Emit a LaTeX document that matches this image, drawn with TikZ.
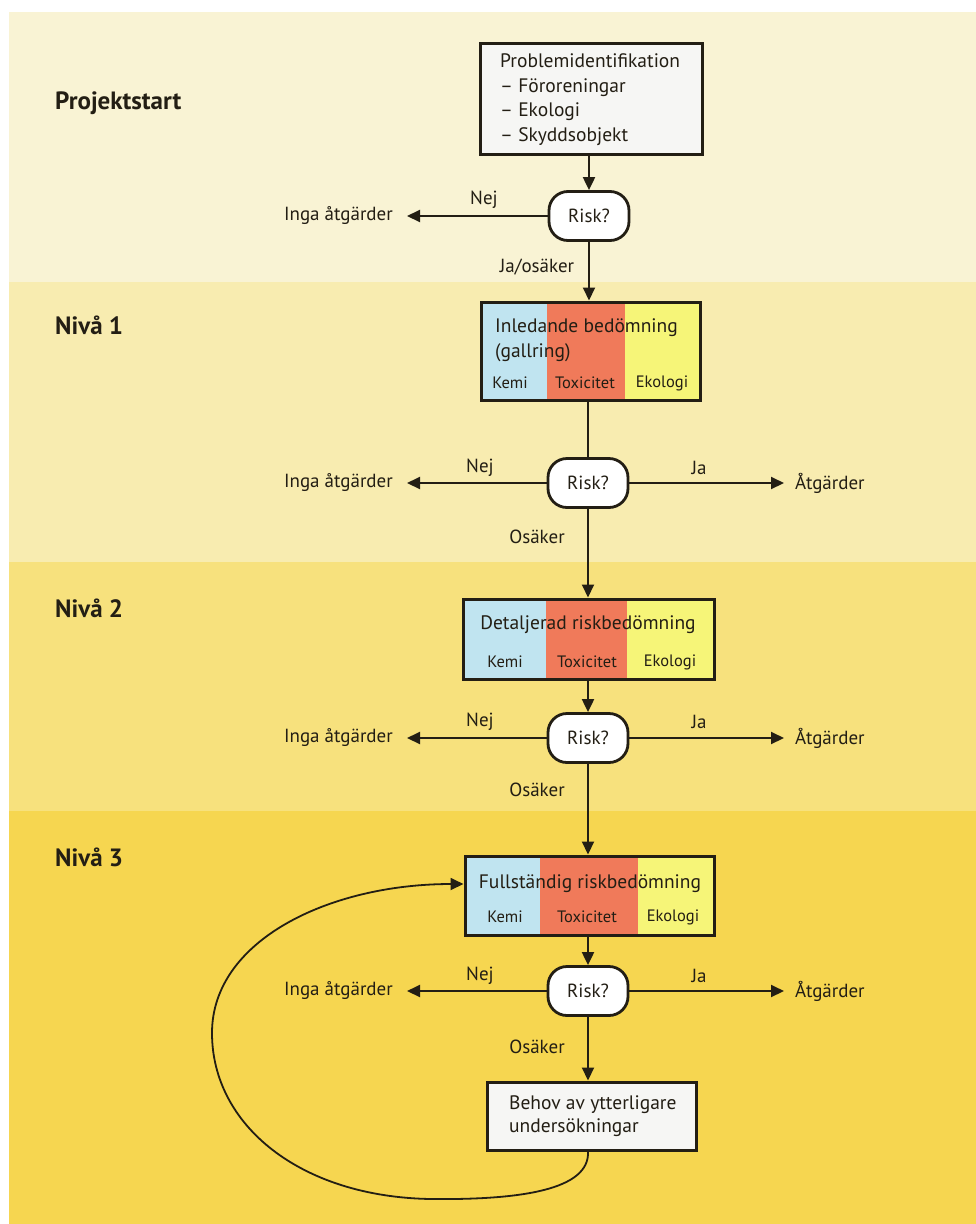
\documentclass[tikz,border=0pt]{standalone}
\usepackage{fontspec}
\setmainfont{PT Sans}
\usetikzlibrary{arrows.meta}
\definecolor{bandA}{RGB}{249,243,212}
\definecolor{bandB}{RGB}{248,236,176}
\definecolor{bandC}{RGB}{247,225,125}
\definecolor{bandD}{RGB}{246,214,80}
\definecolor{cblue}{RGB}{192,228,240}
\definecolor{cred}{RGB}{240,122,90}
\definecolor{cyel}{RGB}{246,245,120}
\definecolor{ink}{RGB}{35,30,20}
\definecolor{boxfill}{RGB}{246,246,244}
\begin{document}
\begin{tikzpicture}[x=1pt,y=-1pt,
  lbl/.style={font=\fontsize{19}{21}\selectfont, text=ink, inner sep=0pt},
  lvl/.style={font=\fontsize{25}{27}\selectfont\bfseries, text=ink, anchor=west, inner sep=0pt},
  riskbox/.style={draw=ink, line width=2.8pt, fill=white, rounded corners=19pt, minimum width=80pt, minimum height=49pt, font=\fontsize{19}{21}\selectfont, text=ink},
  framebox/.style={draw=ink, line width=3pt, inner sep=0pt},
  ttl/.style={font=\fontsize{19.5}{24.5}\selectfont, text=ink, inner sep=0pt},
  sub/.style={font=\fontsize{16.5}{18}\selectfont, text=ink, inner sep=0pt},
  tip/.style={-{Triangle[length=13pt,width=12pt]}},
  arr/.style={draw=ink, line width=2pt, tip},
  ln/.style={draw=ink, line width=2pt}]
\useasboundingbox (0,0) rectangle (976,1224);
\fill[white] (0,0) rectangle (976,1224);
\fill[bandA] (9,12) rectangle (976,282);
\fill[bandB] (9,282) rectangle (976,562);
\fill[bandC] (9,562) rectangle (976,811);
\fill[bandD] (9,811) rectangle (976,1224);

% level labels
\node[lvl] (lp) at (55,103) {Projektstart};
\node[lvl] (l1) at (55,325) {Nivå 1};
\node[lvl] (l2) at (55,608) {Nivå 2};
\node[lvl] (l3) at (55,857) {Nivå 3};

% Problem identification
\node[framebox, fill=boxfill, minimum width=222pt, minimum height=111pt] (prob) at (591,98.5) {};
\node[ttl, anchor=west, align=left] (probt) at (500,99.5) {Problemidentifikation\\– Föroreningar\\– Ekologi\\– Skyddsobjekt};

% Risk 0
\node[riskbox] (r0) at (589,216) {Risk?};
\node[lbl, anchor=east] (n0) at (393,216) {Inga åtgärder};
\draw[arr] (prob.south -| r0) -- (r0.north);
\draw[arr] (r0) -- ([xshift=14pt]n0.east);
\node[lbl] (nej0) at (484,200) {Nej};
\node[lbl] (ja0) at (537,267) {Ja/osäker};

% Level 1 box
\fill[cblue] (481,302) rectangle (547,400);
\fill[cred] (547,302) rectangle (625,400);
\fill[cyel] (625,302) rectangle (700,400);
\node[framebox, minimum width=219pt, minimum height=98pt] (b1) at (590.5,351) {};
\node[ttl, anchor=west, align=left] (b1t) at (495,340) {Inledande bedömning\\(gallring)};
\node[sub] (b1k) at (510,383) {Kemi};
\node[sub] (b1x) at (585,383) {Toxicitet};
\node[sub] (b1e) at (662,383) {Ekologi};
\draw[arr] (r0) -- (r0 |- b1.north);

% Risk 1
\node[riskbox] (r1) at (588,483) {Risk?};
\node[lbl, anchor=east] (n1) at (393,483) {Inga åtgärder};
\node[lbl, anchor=west] (a1) at (795,483) {Åtgärder};
\draw[ln] (b1.south -| r1) -- (r1.north);
\draw[arr] (r1) -- ([xshift=14pt]n1.east);
\draw[arr] (r1) -- ([xshift=-11pt]a1.west);
\node[lbl] (nej1) at (480,468) {Nej};
\node[lbl] (ja1) at (699,468) {Ja};
\node[lbl] (os1) at (537,537) {Osäker};

% Level 2 box
\fill[cblue] (463,599) rectangle (546,679);
\fill[cred] (546,599) rectangle (627,679);
\fill[cyel] (627,599) rectangle (714,679);
\node[framebox, minimum width=251pt, minimum height=80pt] (b2) at (588.5,639) {};
\node[ttl] (b2t) at (588,625) {Detaljerad riskbedömning};
\node[sub] (b2k) at (505,662) {Kemi};
\node[sub] (b2x) at (587,662) {Toxicitet};
\node[sub] (b2e) at (670,662) {Ekologi};
\draw[arr] (r1) -- (r1 |- b2.north);

% Risk 2
\node[riskbox] (r2) at (588,738) {Risk?};
\node[lbl, anchor=east] (n2) at (393,738) {Inga åtgärder};
\node[lbl, anchor=west] (a2) at (795,738) {Åtgärder};
\draw[arr] (b2.south -| r2) -- (r2.north);
\draw[arr] (r2) -- ([xshift=14pt]n2.east);
\draw[arr] (r2) -- ([xshift=-11pt]a2.west);
\node[lbl] (nej2) at (480,722) {Nej};
\node[lbl] (ja2) at (699,722) {Ja};
\node[lbl] (os2) at (537,790) {Osäker};

% Level 3 box
\fill[cblue] (465,856) rectangle (540,935);
\fill[cred] (540,856) rectangle (638,935);
\fill[cyel] (638,856) rectangle (714,935);
\node[framebox, minimum width=249pt, minimum height=79pt] (b3) at (589.5,895.5) {};
\node[ttl] (b3t) at (590,884) {Fullständig riskbedömning};
\node[sub] (b3k) at (505,917) {Kemi};
\node[sub] (b3x) at (587,917) {Toxicitet};
\node[sub] (b3e) at (673,917) {Ekologi};
\draw[arr] (r2) -- (r2 |- b3.north);

% Risk 3
\node[riskbox] (r3) at (588,991) {Risk?};
\node[lbl, anchor=east] (n3) at (393,991) {Inga åtgärder};
\node[lbl, anchor=west] (a3) at (795,991) {Åtgärder};
\draw[arr] (b3.south -| r3) -- (r3.north);
\draw[arr] (r3) -- ([xshift=14pt]n3.east);
\draw[arr] (r3) -- ([xshift=-11pt]a3.west);
\node[lbl] (nej3) at (480,976) {Nej};
\node[lbl] (ja3) at (699,976) {Ja};
\node[lbl] (os3) at (537,1047) {Osäker};

% Behov box
\node[framebox, fill=boxfill, minimum width=209pt, minimum height=68pt] (beh) at (591.5,1116) {};
\node[ttl, anchor=west, align=left, font=\fontsize{19.5}{23}\selectfont] (beht) at (509,1116.5) {Behov av ytterligare\\undersökningar};
\draw[arr] (r3) -- (r3 |- beh.north);

% loop
\coordinate (loopin) at (b3.west |- b3t);
\draw[arr, line width=1.8pt] (beh.south -| r3) .. controls (590,1190) and (520,1200) .. (431,1199) .. controls (300,1197) and (212,1125) .. (212,1033) .. controls (212,940) and (330,884) .. (loopin);
\end{tikzpicture}
\end{document}
